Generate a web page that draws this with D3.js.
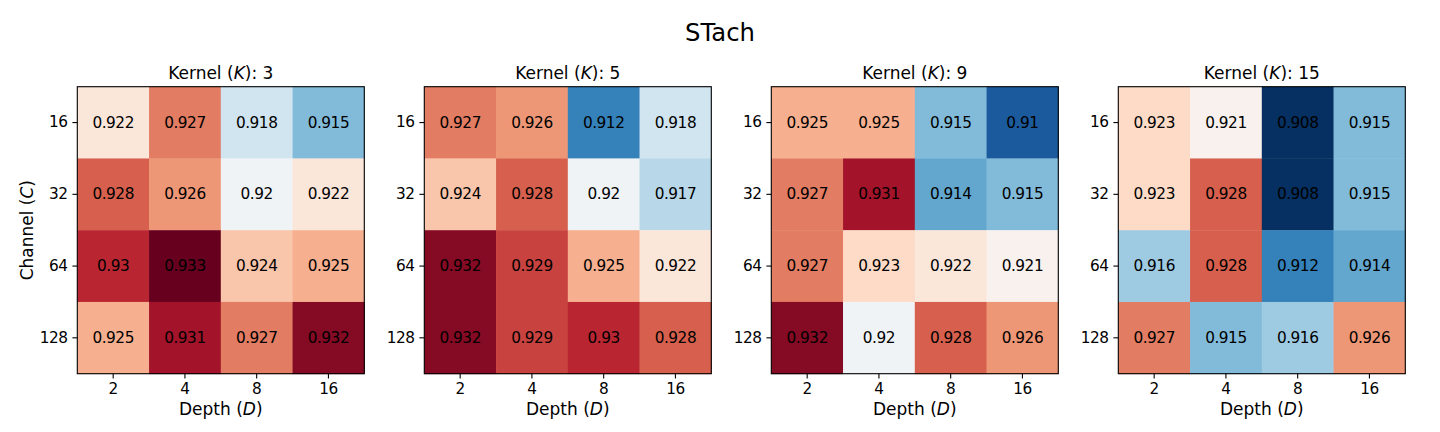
<!DOCTYPE html>
<html>
<head>
<meta charset="utf-8">
<script src="https://cdn.jsdelivr.net/npm/d3@7"></script>
<style>
  body { margin: 0; background: #fff; }
  svg { display: block; font-family: "DejaVu Sans", sans-serif; }
</style>
</head>
<body>
<svg id="chart" width="1440" height="432"></svg>
<script>
// axis categories
const depths = [2, 4, 8, 16];        // x axis
const channels = [16, 32, 64, 128];  // y axis
const kernels = [3, 5, 9, 15];       // one panel each

// accuracy, rows = channel, cols = depth
const accK3 = [
  [0.922, 0.927, 0.918, 0.915],
  [0.928, 0.926, 0.92, 0.922],
  [0.93, 0.933, 0.924, 0.925],
  [0.925, 0.931, 0.927, 0.932]
];
const accK5 = [
  [0.927, 0.926, 0.912, 0.918],
  [0.924, 0.928, 0.92, 0.917],
  [0.932, 0.929, 0.925, 0.922],
  [0.932, 0.929, 0.93, 0.928]
];
const accK9 = [
  [0.925, 0.925, 0.915, 0.91],
  [0.927, 0.931, 0.914, 0.915],
  [0.927, 0.923, 0.922, 0.921],
  [0.932, 0.92, 0.928, 0.926]
];
const accK15 = [
  [0.923, 0.921, 0.908, 0.915],
  [0.923, 0.928, 0.908, 0.915],
  [0.916, 0.928, 0.912, 0.914],
  [0.927, 0.915, 0.916, 0.926]
];
const panels = [accK3, accK5, accK9, accK15];

let svg = d3.select("#chart");

// matplotlib RdBu_r, low -> high
const rdbuR = ["#053061", "#2166ac", "#4393c3", "#92c5de", "#d1e5f0", "#f7f7f7",
               "#fddbc7", "#f4a582", "#d6604d", "#b2182b", "#67001f"];
let all = panels.flat(2);
let vmin = d3.min(all), vmax = d3.max(all);   // one colour scale for all panels
let norm = d3.scaleLinear().domain([vmin, vmax]).range([0, 1]).clamp(true);
let cmap = d3.scaleLinear()
    .domain(d3.range(11).map(i => i / 10))
    .range(rdbuR)
    .interpolate(d3.interpolateRgb);

let size = 287;          // axes are square
let axTop = 86.7;
let lefts = [77.3, 424.3, 771.3, 1118.3];
let tick = 4.9, pad = 4.9;

// suptitle
svg.append("text")
    .attr("x", 720).attr("y", 40.5)
    .attr("text-anchor", "middle")
    .style("font-size", "24.3px")
    .text("STach");

panels.forEach(function(acc, p) {
    let g = svg.append("g")
        .attr("transform", "translate(" + lefts[p] + "," + axTop + ")");

    let x = d3.scaleBand().domain(depths).range([0, size]);
    let y = d3.scaleBand().domain(channels).range([0, size]);

    let cells = [];
    acc.forEach((row, i) => row.forEach((v, j) => cells.push({c: channels[i], d: depths[j], v: v})));

    g.selectAll(".cell")
        .data(cells)
        .enter()
        .append("rect")
        .attr("class", "cell")
        .attr("x", d => x(d.d))
        .attr("y", d => y(d.c))
        .attr("width", x.bandwidth() + 0.4)
        .attr("height", y.bandwidth() + 0.4)
        .attr("fill", d => cmap(norm(d.v)));

    g.selectAll(".val")
        .data(cells)
        .enter()
        .append("text")
        .attr("class", "val")
        .attr("x", d => x(d.d) + x.bandwidth() / 2)
        .attr("y", d => y(d.c) + y.bandwidth() / 2)
        .attr("text-anchor", "middle")
        .attr("dominant-baseline", "central")
        .style("font-size", "15.3px")
        .style("letter-spacing", "-0.45px")
        .text(d => String(d.v));

    // frame
    g.append("rect")
        .attr("width", size).attr("height", size)
        .attr("fill", "none")
        .attr("stroke", "#000")
        .attr("stroke-width", 1.1);

    let xAxis = d3.axisBottom(x).tickSize(tick).tickPadding(pad).tickSizeOuter(0);
    let yAxis = d3.axisLeft(y).tickSize(tick).tickPadding(pad).tickSizeOuter(0);

    let gx = g.append("g").attr("transform", "translate(0," + size + ")").call(xAxis);
    let gy = g.append("g").call(yAxis);
    [gx, gy].forEach(a => {
        a.select(".domain").remove();
        a.selectAll("line").attr("stroke", "#000").attr("stroke-width", 1.1);
        a.selectAll("text").attr("fill", "#000")
            .style("font-size", "15.3px")
            .style("letter-spacing", "-0.45px")
            .style("font-family", "DejaVu Sans, sans-serif");
    });

    // panel title with italic K
    let t = g.append("text")
        .attr("x", size / 2).attr("y", -7.5)
        .attr("text-anchor", "middle")
        .style("font-size", "17px");
    t.append("tspan").text("Kernel (");
    t.append("tspan").style("font-style", "italic").text("K");
    t.append("tspan").text("): " + kernels[p]);

    // x label
    let xl = g.append("text")
        .attr("x", size / 2).attr("y", size + 41.5)
        .attr("text-anchor", "middle")
        .style("font-size", "17px");
    xl.append("tspan").text("Depth (");
    xl.append("tspan").style("font-style", "italic").text("D");
    xl.append("tspan").text(")");

    if (p === 0) {
        let yl = g.append("text")
            .attr("transform", "translate(" + (-44) + "," + (size / 2) + ") rotate(-90)")
            .attr("text-anchor", "middle")
            .style("font-size", "17px");
        yl.append("tspan").text("Channel (");
        yl.append("tspan").style("font-style", "italic").text("C");
        yl.append("tspan").text(")");
    }
});
</script>
</body>
</html>
